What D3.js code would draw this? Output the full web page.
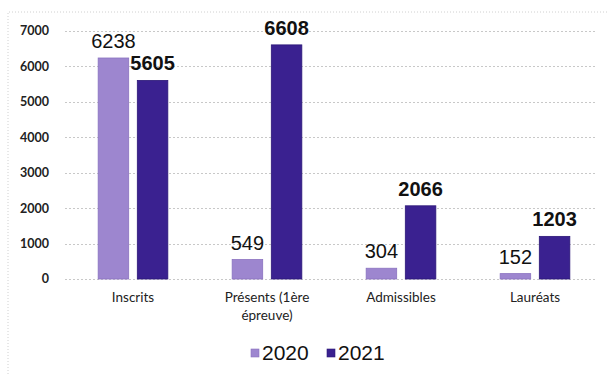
<!DOCTYPE html>
<html>
<head>
<meta charset="utf-8">
<style>
  body { margin: 0; background: #fff; }
  .grid line { stroke: #c8c8c8; stroke-dasharray: 2,2; }
  .ytick { font-family: Lato, "Open Sans", sans-serif; font-size: 12.5px; font-weight: bold; fill: #222; }
  .cat { font-family: Lato, "Open Sans", sans-serif; font-size: 13.5px; fill: #222; }
  .val { font-family: "Liberation Sans", Arial, sans-serif; font-size: 20px; fill: #111; }
  .legend text { font-family: "Liberation Sans", Arial, sans-serif; font-size: 21px; fill: #111; }
</style>
</head>
<body>
<div class="viz"></div>
<script src="https://cdnjs.cloudflare.com/ajax/libs/d3/7.8.5/d3.min.js"></script>
<script>
var categories = [["Inscrits"], ["Présents (1ère", "épreuve)"], ["Admissibles"], ["Lauréats"]];
var years = ["2020", "2021"];
var values2020 = [6238, 549, 304, 152];
var values2021 = [5605, 6608, 2066, 1203];
var yTicks = [0, 1000, 2000, 3000, 4000, 5000, 6000, 7000];
var colors = ["#9d86cf", "#3a2190"];

var width = 609, height = 374;
var margin = {top: 31, bottom: 95, left: 66, right: 7};

var svg = d3.select(".viz").append("svg")
    .attr("width", width)
    .attr("height", height);

// dotted outer frame
svg.append("path")
    .attr("d", "M8," + height + "V12H" + width)
    .attr("fill", "none")
    .attr("stroke", "#d0d0d0")
    .attr("stroke-dasharray", "1,2");

var y = d3.scaleLinear()
    .domain([0, 7000])
    .range([height - margin.bottom, margin.top]);

var x0 = d3.scaleBand()
    .domain(d3.range(categories.length))
    .range([margin.left, width - margin.right]);

var x1 = d3.scaleBand()
    .domain(years)
    .range([x0.bandwidth() * 0.24, x0.bandwidth() * 0.76])
    .paddingInner(0.22);

svg.append("g")
    .attr("class", "grid")
    .selectAll("line")
    .data(yTicks)
    .enter().append("line")
    .attr("x1", margin.left - 1)
    .attr("x2", 597)
    .attr("y1", function (d) { return Math.round(y(d)) + 0.5; })
    .attr("y2", function (d) { return Math.round(y(d)) + 0.5; });

svg.append("g")
    .selectAll("text")
    .data(yTicks)
    .enter().append("text")
    .attr("class", "ytick")
    .attr("x", 49)
    .attr("y", function (d) { return y(d); })
    .attr("dy", "0.35em")
    .attr("text-anchor", "end")
    .text(function (d) { return d; });

var series = [values2020, values2021];

var groups = svg.append("g")
    .selectAll("g")
    .data(categories)
    .enter().append("g")
    .attr("transform", function (d, i) { return "translate(" + x0(i) + ",0)"; });

years.forEach(function (yr, s) {
    groups.append("rect")
        .attr("x", x1(yr))
        .attr("width", x1.bandwidth())
        .attr("y", function (d, i) { return y(series[s][i]); })
        .attr("height", function (d, i) { return y(0) - y(series[s][i]); })
        .attr("fill", colors[s])
        .attr("stroke", s === 0 ? "#8a72c0" : "#2c1878")
        .attr("stroke-width", 0.8);

    groups.append("text")
        .attr("class", "val")
        .attr("x", x1(yr) + x1.bandwidth() / 2)
        .attr("y", function (d, i) { return y(series[s][i]) - 10; })
        .attr("text-anchor", "middle")
        .attr("font-weight", s === 1 ? "bold" : "normal")
        .text(function (d, i) { return series[s][i]; });
});

groups.append("text")
    .attr("class", "cat")
    .attr("x", x0.bandwidth() / 2)
    .attr("y", y(0) + 23)
    .attr("text-anchor", "middle")
    .selectAll("tspan")
    .data(function (d) { return d; })
    .enter().append("tspan")
    .attr("x", x0.bandwidth() / 2)
    .attr("dy", function (d, i) { return i === 0 ? 0 : 18; })
    .text(function (d) { return d; });

var legend = svg.append("g").attr("class", "legend");
var legendX = [251, 327];
years.forEach(function (yr, s) {
    legend.append("rect")
        .attr("x", legendX[s])
        .attr("y", 349)
        .attr("width", 8)
        .attr("height", 8)
        .attr("fill", colors[s])
        .attr("stroke", s === 0 ? "#8a72c0" : "#2c1878")
        .attr("stroke-width", 0.6);
    legend.append("text")
        .attr("x", legendX[s] + 11)
        .attr("y", 360)
        .text(yr);
});
</script>
</body>
</html>
